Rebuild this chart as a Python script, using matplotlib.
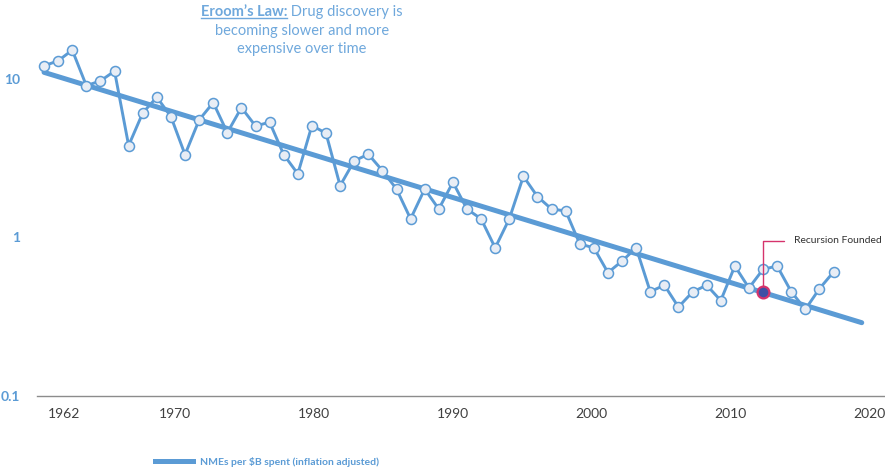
import numpy as np
import matplotlib.pyplot as plt
from matplotlib.lines import Line2D

plt.rcParams['font.family'] = ['Lato', 'DejaVu Sans']

BLUE = '#5B9BD5'
TITLE_BLUE = '#6FA8DC'
PINK = '#D6336C'

# NMEs approved per $B of R&D spend (inflation adjusted), one point per year
years = np.arange(1961, 2018)
nmes = [12.1, 13.0, 15.2, 9.07, 9.71, 11.2, 3.80, 6.10, 7.67, 5.78,
        3.33, 5.51, 7.09, 4.58, 6.59, 5.05, 5.33, 3.33, 2.52, 5.08,
        4.54, 2.12, 3.04, 3.35, 2.64, 2.02, 1.31, 2.02, 1.51, 2.23,
        1.51, 1.31, 0.86, 1.31, 2.43, 1.81, 1.51, 1.47, 0.91, 0.86,
        0.60, 0.71, 0.86, 0.455, 0.50, 0.364, 0.453, 0.50, 0.40, 0.66,
        0.48, 0.63, 0.66, 0.455, 0.352, 0.475, 0.606]

# exponential trend line
trend_years = [1961, 2019]
trend_vals = [11.0, 0.29]

founded_year = 2012
founded_val = 0.45

xticks = [1962, 1970, 1980, 1990, 2000, 2010, 2020]
yticks = [0.1, 1, 10]
ytick_labels = ['0.1', '1', '10']

# the year labels run on their own, slightly tighter, category scale
LABEL_ORIGIN = 1960.56
LABEL_STRETCH = 1.0159


def to_label(y):
    return LABEL_ORIGIN + (y - 1961) * LABEL_STRETCH


def from_label(v):
    return 1961 + (v - LABEL_ORIGIN) / LABEL_STRETCH


fig = plt.figure(figsize=(8.85, 4.68), dpi=100)
ax = fig.add_axes([37 / 885, 72 / 468, 848 / 885, 386 / 468])

ax.plot(trend_years, trend_vals, color=BLUE, lw=3.6, solid_capstyle='round', zorder=2)
ax.plot(years, nmes, color=BLUE, lw=2.1, marker='o', markersize=7.2,
        markerfacecolor='#E8EDF5', markeredgecolor=BLUE, markeredgewidth=1.1,
        zorder=3)

ax.set_yscale('log')
ax.set_ylim(0.1, 27.2)
ax.set_xlim(1960.5, 2020.65)
ax.minorticks_off()

ax.set_yticks(yticks, labels=ytick_labels)
ax.set_xticks([])
ax.tick_params(axis='y', length=0, pad=12, labelcolor=BLUE, labelsize=10)
for lbl in ax.get_yticklabels():
    lbl.set_fontweight('bold')

xlab = ax.secondary_xaxis('bottom', functions=(to_label, from_label))
xlab.set_xticks(xticks, labels=[str(y) for y in xticks])
xlab.tick_params(axis='x', length=0, pad=9, labelcolor='#404040', labelsize=10)
xlab.spines['bottom'].set_visible(False)

for side in ('top', 'right', 'left'):
    ax.spines[side].set_visible(False)
ax.spines['bottom'].set_color('#8C8C8C')
ax.spines['bottom'].set_linewidth(1)

# marker for when Recursion was founded
ax.annotate('Recursion Founded', xy=(founded_year, founded_val),
            xytext=(2014.2, 0.955), textcoords='data',
            ha='left', va='center', fontsize=7.5, color='#333333',
            arrowprops=dict(arrowstyle='-', color=PINK, lw=1,
                            connectionstyle='angle,angleA=0,angleB=90,rad=0',
                            relpos=(0, 0.5), shrinkA=5, shrinkB=0),
            zorder=5)
ax.plot([founded_year], [founded_val], marker='o', markersize=8.5,
        markerfacecolor='#3F4FA5', markeredgecolor=PINK, markeredgewidth=1.6,
        zorder=6)

# title: bold underlined lead-in followed by regular text, centred
cx = 302 / 885
t_bold = fig.text(0, 1 - 12 / 468, 'Eroom\u2019s Law:', fontsize=10.5, fontweight='bold',
                  color=TITLE_BLUE, ha='left', va='center')
t_rest = fig.text(0, 1 - 12 / 468, ' Drug discovery is', fontsize=10.5,
                  color=TITLE_BLUE, ha='left', va='center')
renderer = fig.canvas.get_renderer()
wb = t_bold.get_window_extent(renderer).width
wr = t_rest.get_window_extent(renderer).width
x0 = cx * 885 - (wb + wr) / 2
t_bold.set_x(x0 / 885)
t_rest.set_x((x0 + wb) / 885)
bb = t_bold.get_window_extent(renderer)
fig.add_artist(Line2D([bb.x0 / 885, bb.x1 / 885], [(bb.y0 + 1) / 468] * 2,
                      color=TITLE_BLUE, lw=1, transform=fig.transFigure))
fig.text(cx, 1 - 31 / 468, 'becoming slower and more', fontsize=10.5,
         color=TITLE_BLUE, ha='center', va='center')
fig.text(cx, 1 - 49 / 468, 'expensive over time', fontsize=10.5,
         color=TITLE_BLUE, ha='center', va='center')

fig.legend(handles=[Line2D([], [], color=BLUE, lw=3.6)],
           labels=[r'NMEs per \$B spent (inflation adjusted)'],
           loc='center left', bbox_to_anchor=(146 / 885, 1 - 462 / 468),
           frameon=False, handlelength=3.6, handletextpad=0.7,
           prop={'weight': 'bold', 'size': 7.5}, labelcolor=BLUE)

fig.savefig('out.png', dpi=100)
